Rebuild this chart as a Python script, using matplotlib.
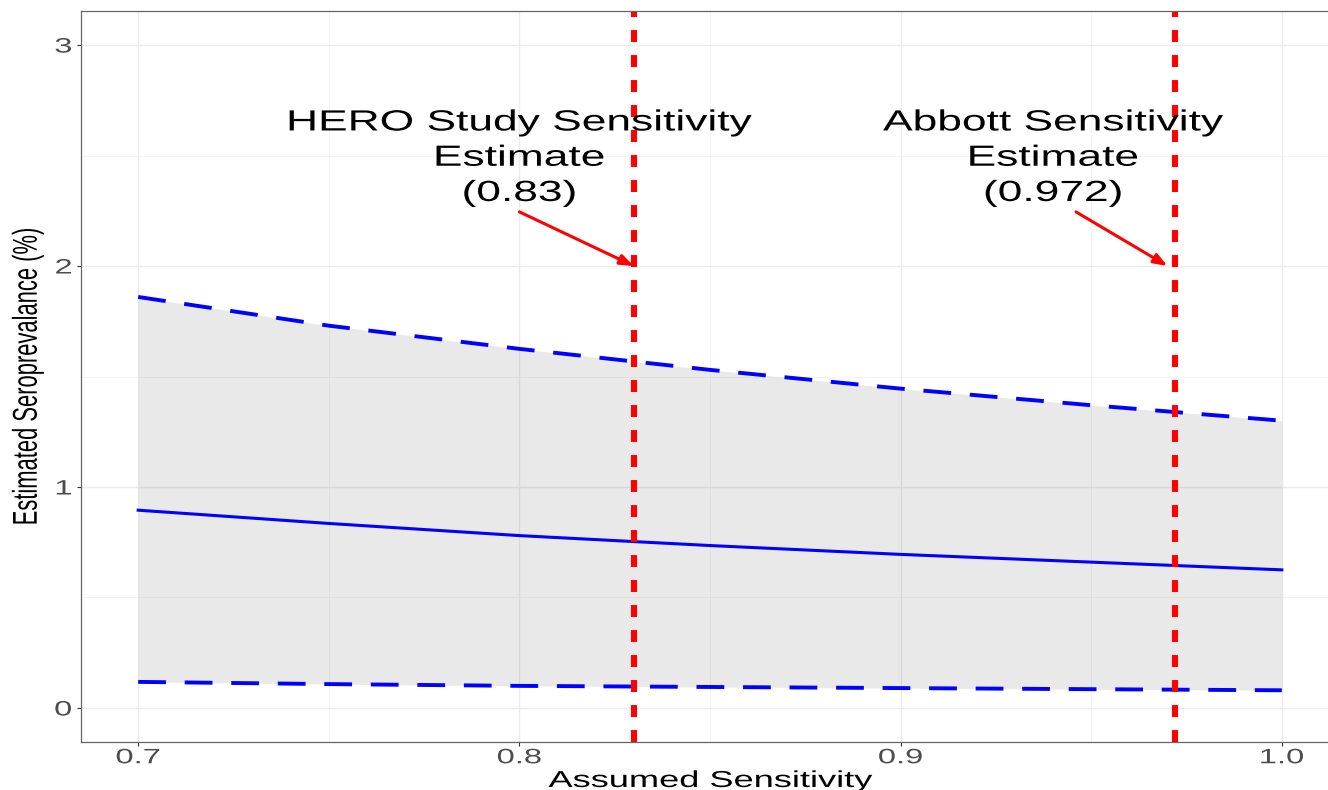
import matplotlib
matplotlib.use('Agg')
import matplotlib.pyplot as plt
from matplotlib.patheffects import AbstractPathEffect
from matplotlib.transforms import Affine2D

# ---------------- data ----------------
sensitivity = [0.70, 0.75, 0.80, 0.85, 0.90, 0.95, 1.00]
estimate = [0.895, 0.835, 0.780, 0.735, 0.695, 0.660, 0.625]
upper = [1.860, 1.730, 1.625, 1.530, 1.445, 1.370, 1.300]
lower = [0.118, 0.108, 0.100, 0.095, 0.090, 0.085, 0.080]

ref_sens = [0.83, 0.972]
ref_labels = ['HERO Study Sensitivity\nEstimate\n(0.83)',
              'Abbott Sensitivity\nEstimate\n(0.972)']
label_x = [0.80, 0.94]
label_y = 2.49
arrow_start = [(0.800, 2.245), (0.946, 2.245)]
arrow_end = [(0.830, 2.0), (0.970, 2.0)]

x_ticks = [0.7, 0.8, 0.9, 1.0]
x_tick_labels = ['0.7', '0.8', '0.9', '1.0']
x_minor = [0.75, 0.85, 0.95]
y_ticks = [0, 1, 2, 3]
y_tick_labels = ['0', '1', '2', '3']
y_minor = [0.5, 1.5, 2.5]


class StretchX(AbstractPathEffect):
    """Widen glyphs horizontally around their centre (or right edge)."""

    def __init__(self, sx=1.57, anchor='center'):
        super().__init__()
        self.sx = sx
        self.anchor = anchor

    def draw_path(self, renderer, gc, tpath, affine, rgbFace=None):
        ext = tpath.get_extents(affine)
        x0 = ext.x1 if self.anchor == 'right' else (ext.x0 + ext.x1) / 2
        stretch = Affine2D().translate(-x0, 0).scale(self.sx, 1).translate(x0, 0)
        renderer.draw_path(gc, tpath, affine + stretch, rgbFace)


plt.rcParams['font.family'] = ['Liberation Sans', 'DejaVu Sans']
plt.rcParams['lines.scale_dashes'] = False

fig = plt.figure(figsize=(13.28, 7.90), dpi=100)
fig.patch.set_facecolor('white')
ax = fig.add_axes([81 / 1328, 48 / 790, 1258 / 1328, 731 / 790])

# grid
ax.set_xticks(x_ticks)
ax.set_xticks(x_minor, minor=True)
ax.set_yticks(y_ticks)
ax.set_yticks(y_minor, minor=True)
ax.grid(which='major', color='#EBEBEB', linewidth=1.0)
ax.grid(which='minor', color='#F3F3F3', linewidth=0.6)
ax.set_axisbelow(True)

# ribbon and lines
ax.fill_between(sensitivity, lower, upper, color='#808080', alpha=0.17, linewidth=0)
ax.plot(sensitivity, estimate, color='blue', linewidth=2.2)
ax.plot(sensitivity, upper, color='blue', linewidth=2.8, dashes=(20, 13.5))
ax.plot(sensitivity, lower, color='blue', linewidth=2.8, dashes=(20, 13.5))

# reference lines, labels, arrows
for xv in ref_sens:
    ax.axvline(xv, color='red', linewidth=4.4, dashes=(8.6, 9.4))

for lx, txt in zip(label_x, ref_labels):
    ax.text(lx, label_y, txt, fontsize=21, ha='center', va='center',
            ma='center', linespacing=1.33, color='black',
            path_effects=[StretchX(sx=1.52)])

for (x0, y0), (x1, y1) in zip(arrow_start, arrow_end):
    ax.annotate('', xy=(x1, y1), xytext=(x0, y0),
                arrowprops=dict(arrowstyle='-|>,head_length=0.8,head_width=0.3',
                                color='red', lw=2.2, shrinkA=0, shrinkB=0,
                                mutation_scale=10))

ax.set_xlim(0.685, 1.015)
ax.set_ylim(-0.154, 3.154)

# axes styling (ggplot theme_bw look)
for sp in ax.spines.values():
    sp.set_color('#666666')
    sp.set_linewidth(0.9)
ax.tick_params(which='major', length=3, width=0.8, color='#333333',
               labelcolor='#4D4D4D', labelsize=15)
ax.tick_params(axis='x', pad=1.5)
ax.tick_params(axis='y', pad=3.5)
ax.tick_params(which='minor', length=0)
ax.set_xticklabels(x_tick_labels)
ax.set_yticklabels(y_tick_labels)
for lab in ax.get_xticklabels():
    lab.set_path_effects([StretchX()])
for lab in ax.get_yticklabels():
    lab.set_path_effects([StretchX(anchor='right')])

fig.text(710 / 1328, 1 - 787 / 790, 'Assumed Sensitivity', fontsize=16.6,
         ha='center', va='baseline', path_effects=[StretchX()])
fig.text(28 / 1328, 1 - 376.5 / 790, 'Estimated Seroprevalance (%)', fontsize=15.8,
         rotation=90, ha='center', va='center', path_effects=[StretchX()])

fig.savefig('out.png', dpi=100, facecolor='white')
